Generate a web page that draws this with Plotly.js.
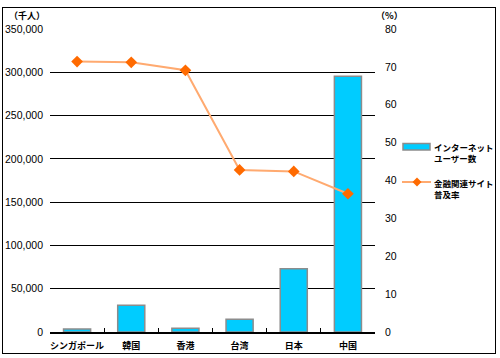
<!DOCTYPE html>
<html><head><meta charset="utf-8">
<script src="https://cdn.plot.ly/plotly-3.0.1.min.js"></script>
<style>
html,body{margin:0;padding:0;background:#fff;}
#wrap{position:relative;width:500px;height:358px;}
#frame{position:absolute;left:2px;top:7px;width:492px;height:345px;border:1.5px solid #000;}
#chart{position:absolute;left:0;top:0;width:500px;height:358px;}
</style></head>
<body><div id="wrap"><div id="frame"></div><div id="chart"></div></div>
<script>
const categories = ["シンガポール","韓国","香港","台湾","日本","中国"];
const internetUsers = [3400, 31000, 4300, 14700, 73000, 295500];
const financeSiteRate = [71.4, 71.2, 69.1, 42.8, 42.4, 36.5];
const seriesNames = ["インターネット<br>ユーザー数", "金融関連サイト<br>普及率"];
const leftTitle = "（千人）";
const rightTitle = "（%）";

const jp = "Noto Sans CJK JP";
const num = "Liberation Sans, Arial";

const L = 50, R = 375, T = 29, B = 332;
const px = v => (v - L) / (R - L);
const py = v => (B - v) / (B - T);

const traces = [
  {type:'bar', x:categories, y:internetUsers, name:seriesNames[0], width:0.5,
   marker:{color:'#00CCFF', line:{color:'#8c8c8c', width:1.5}}, showlegend:false, yaxis:'y'},
  {type:'scatter', mode:'lines+markers', x:categories, y:financeSiteRate, name:seriesNames[1], yaxis:'y2',
   line:{color:'#FFAA70', width:2}, marker:{symbol:'diamond', size:9, color:'#FF6A00'}, showlegend:false}
];

const layout = {
  width:500, height:358,
  margin:{l:L, r:500-R, t:T, b:358-B, pad:0},
  paper_bgcolor:'rgba(0,0,0,0)', plot_bgcolor:'rgba(0,0,0,0)',
  showlegend:false,
  xaxis:{type:'category', showline:true, linecolor:'#000', linewidth:1.5, tickangle:0,
    ticks:'inside', tickson:'boundaries', ticklen:4, tickcolor:'#000', tickwidth:1,
    showgrid:false, tickfont:{family:jp, size:9, color:'#000', weight:'bold'}, ticklabelstandoff:5},
  yaxis:{range:[0,350000], dtick:50000, tickformat:',d', showgrid:true, gridcolor:'#000', gridwidth:1,
    zeroline:false, showline:false, ticks:'', ticklabelstandoff:6,
    tickfont:{family:num, size:10.5, color:'#000'}},
  yaxis2:{range:[0,80], dtick:10, overlaying:'y', side:'right', showgrid:false, zeroline:false,
    showline:false, ticks:'', ticklabelstandoff:9, tickfont:{family:num, size:10.5, color:'#000'}},
  annotations:[
    {text:'<b>'+leftTitle+'</b>', xref:'paper', yref:'paper', x:px(27), y:py(15), xanchor:'center', yanchor:'middle',
     showarrow:false, font:{family:jp, size:9, color:'#000'}},
    {text:'<b>'+rightTitle+'</b>', xref:'paper', yref:'paper', x:px(389), y:py(15), xanchor:'center', yanchor:'middle',
     showarrow:false, font:{family:jp, size:9, color:'#000'}},
    {text:'<b>'+seriesNames[0]+'</b>', xref:'paper', yref:'paper', x:px(432), y:py(152), xanchor:'left', yanchor:'middle',
     align:'left', showarrow:false, font:{family:jp, size:8.5, color:'#000'}},
    {text:'<b>'+seriesNames[1]+'</b>', xref:'paper', yref:'paper', x:px(432), y:py(188), xanchor:'left', yanchor:'middle',
     align:'left', showarrow:false, font:{family:jp, size:8.5, color:'#000'}}
  ],
  shapes:[
    {type:'rect', xref:'paper', yref:'paper', x0:px(403), x1:px(430), y0:py(150), y1:py(143.5),
     fillcolor:'#00CCFF', line:{color:'#8c8c8c', width:1.5}},
    {type:'line', xref:'paper', yref:'paper', x0:px(402), x1:px(431), y0:py(182), y1:py(182),
     line:{color:'#FFAA70', width:2}},
    {type:'path', xref:'paper', yref:'paper',
     path:`M ${px(417)} ${py(177.5)} L ${px(421.5)} ${py(182)} L ${px(417)} ${py(186.5)} L ${px(412.5)} ${py(182)} Z`,
     fillcolor:'#FF6A00', line:{width:0}}
  ]
};

Plotly.newPlot('chart', traces, layout, {staticPlot:true, displayModeBar:false});
</script></body></html>
